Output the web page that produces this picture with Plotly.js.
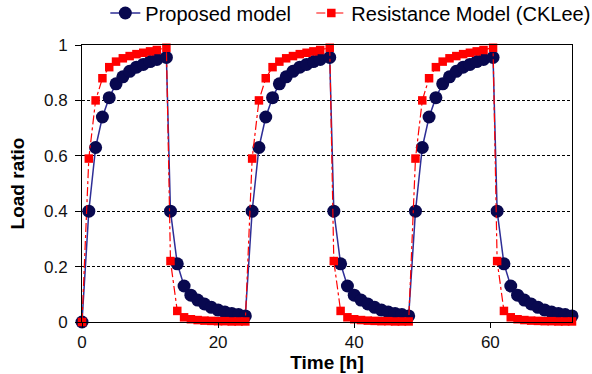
<!DOCTYPE html>
<html>
<head>
<meta charset="utf-8">
<script src="https://cdn.plot.ly/plotly-3.0.1.min.js"></script>
<style>html,body{margin:0;padding:0;background:#fff;}#chart{width:592px;height:374px;}</style>
</head>
<body>
<div id="chart"></div>
<script>
// Time [h] (shared by both series)
var timeH = [
  0, 1, 2, 3, 4, 5, 6, 7, 8, 9, 10, 11, 12.4,
  13, 14, 15, 16, 17, 18, 19, 20, 21, 22, 23, 24,
  25, 26, 27, 28, 29, 30, 31, 32, 33, 34, 35, 36.4,
  37, 38, 39, 40, 41, 42, 43, 44, 45, 46, 47, 48,
  49, 50, 51, 52, 53, 54, 55, 56, 57, 58, 59, 60.4,
  61, 62, 63, 64, 65, 66, 67, 68, 69, 70, 71, 72
];
// Proposed model load ratio
var proposed = [
  0, 0.40, 0.63, 0.74, 0.81, 0.86, 0.885, 0.905, 0.92, 0.93, 0.94, 0.948, 0.955,
  0.40, 0.21, 0.13, 0.097, 0.079, 0.065, 0.053, 0.043, 0.036, 0.031, 0.027, 0.022,
  0.40, 0.63, 0.74, 0.81, 0.86, 0.885, 0.905, 0.92, 0.93, 0.94, 0.948, 0.955,
  0.40, 0.21, 0.13, 0.097, 0.079, 0.065, 0.053, 0.043, 0.036, 0.031, 0.027, 0.022,
  0.40, 0.63, 0.74, 0.81, 0.86, 0.885, 0.905, 0.92, 0.93, 0.94, 0.948, 0.955,
  0.40, 0.21, 0.13, 0.097, 0.079, 0.065, 0.053, 0.043, 0.036, 0.031, 0.027, 0.022
];
// Resistance Model (CKLee) load ratio
var resistance = [
  0, 0.59, 0.80, 0.88, 0.92, 0.94, 0.952, 0.96, 0.967, 0.972, 0.977, 0.982, 0.99,
  0.22, 0.04, 0.017, 0.01, 0.007, 0.005, 0.004, 0.003, 0.003, 0.002, 0.002, 0.002,
  0.59, 0.80, 0.88, 0.92, 0.94, 0.952, 0.96, 0.967, 0.972, 0.977, 0.982, 0.99,
  0.22, 0.04, 0.017, 0.01, 0.007, 0.005, 0.004, 0.003, 0.003, 0.002, 0.002, 0.002,
  0.59, 0.80, 0.88, 0.92, 0.94, 0.952, 0.96, 0.967, 0.972, 0.977, 0.982, 0.99,
  0.22, 0.04, 0.017, 0.01, 0.007, 0.005, 0.004, 0.003, 0.003, 0.002, 0.002, 0.002
];
var seriesNames = ['Proposed model', 'Resistance Model (CKLee)'];
var xTickVals = [0, 20, 40, 60];
var yTickVals = [0, 0.2, 0.4, 0.6, 0.8, 1];
var yTickText = ['0', '0.2', '0.4', '0.6', '0.8', '1'];

var traces = [
  {
    x: timeH, y: proposed, name: seriesNames[0], type: 'scatter', mode: 'lines+markers',
    line: {color: '#2e2e96', width: 1.5},
    marker: {symbol: 'circle', size: 13, color: '#08084f'},
    cliponaxis: false, legend: 'legend'
  },
  {
    x: timeH, y: resistance, name: seriesNames[1], type: 'scatter', mode: 'lines+markers',
    line: {color: '#ff0000', width: 1.2, dash: 'dashdot'},
    marker: {symbol: 'square', size: 8.5, color: '#ff0000'},
    cliponaxis: false, legend: 'legend2'
  }
];

var legendFont = {size: 20, color: '#000'};
var layout = {
  width: 592, height: 374,
  margin: {l: 82, r: 20, t: 45, b: 52, pad: 0, autoexpand: false},
  paper_bgcolor: '#ffffff', plot_bgcolor: '#ffffff',
  font: {family: 'Arial, "Liberation Sans", sans-serif', color: '#000'},
  showlegend: true,
  legend: {
    orientation: 'h', x: 0.0476, y: 1.186, xanchor: 'left', yanchor: 'top',
    font: legendFont, bgcolor: 'rgba(0,0,0,0)'
  },
  legend2: {
    orientation: 'h', x: 0.468, y: 1.186, xanchor: 'left', yanchor: 'top',
    font: legendFont, bgcolor: 'rgba(0,0,0,0)'
  },
  xaxis: {
    range: [0, 72], tickvals: xTickVals, ticks: 'outside', ticklen: 5, tickcolor: '#000',
    showline: true, linecolor: '#000', linewidth: 1, mirror: true,
    showgrid: false, zeroline: false,
    tickfont: {size: 17, color: '#111'},
    title: {text: '<b>Time [h]</b>', font: {size: 19, color: '#000'}, standoff: 0}
  },
  yaxis: {
    range: [0, 1], tickvals: yTickVals, ticktext: yTickText, ticks: 'outside', ticklen: 6, tickcolor: '#000',
    showline: true, linecolor: '#000', linewidth: 1, mirror: true,
    showgrid: true, gridcolor: '#000', gridwidth: 1, griddash: '3px,2px', zeroline: false,
    tickfont: {size: 17, color: '#111'}, ticklabelstandoff: 4,
    title: {text: '<b>Load ratio</b>', font: {size: 19, color: '#000'}, standoff: 14}
  }
};

Plotly.newPlot('chart', traces, layout, {staticPlot: true, displayModeBar: false});
</script>
</body>
</html>
